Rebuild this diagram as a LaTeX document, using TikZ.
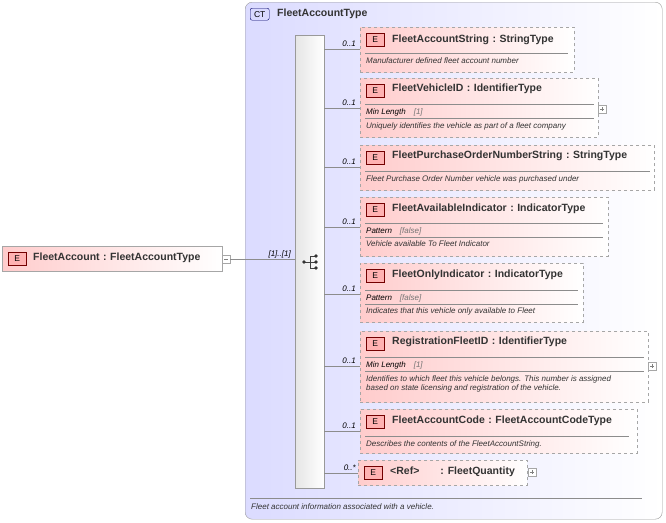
\documentclass[tikz,border=0pt]{standalone}
\usepackage{fontspec}
\setmainfont{Liberation Sans}
\begin{document}
\begin{tikzpicture}[x=1pt,y=-1pt,
  ebox/.style={draw=black!35,dashed,left color=red!20,right color=white,anchor=north west,inner sep=0pt},
  sbox/.style={draw=black!35,left color=red!20,right color=white,anchor=north west,inner sep=0pt},
  badge/.style={draw=red!45!black,fill=red!30,anchor=north west,inner sep=0pt,minimum width=18pt,minimum height=13pt,font=\fontsize{8.5}{8.5}\selectfont},
  ttl/.style={anchor=west,font=\fontsize{10.5}{11}\selectfont\bfseries,text=black!80,inner sep=0pt},
  dsc/.style={anchor=west,font=\fontsize{8}{9.5}\selectfont\itshape,text=black!80,inner sep=0pt,align=left},
  fac/.style={anchor=west,font=\fontsize{8}{8}\selectfont,inner sep=0pt},
  card/.style={anchor=east,font=\fontsize{8}{8}\selectfont\itshape,inner sep=0pt},
  sep/.style={draw=black!45},
  con/.style={draw=black!45},
  pm/.style={draw=black!35,fill=white,minimum size=8pt,inner sep=0pt,anchor=west}]
\useasboundingbox (0,0) rectangle (666,522);
% complex type
\node[draw=black!40,rounded corners=7pt,left color=blue!14,right color=white,anchor=north west,minimum width=417pt,minimum height=517pt,inner sep=0pt] (ct) at (245,2) {};
\node[draw=blue!40!black,fill=blue!15,rounded corners=2pt,anchor=north west,minimum width=19pt,minimum height=12pt,inner sep=0pt,font=\fontsize{8.5}{8.5}\selectfont] (ctb) at (250,8) {CT};
\node[ttl,anchor=west] (ctt) at (277,14) {FleetAccountType};
\draw[sep] (250,498) -- (642,498);
\node[dsc] (ctd) at (251,507) {Fleet account information associated with a vehicle.};
% sequence bar
\node[draw=black!40,left color=black!10,right color=white,anchor=north west,minimum width=29pt,minimum height=453pt,inner sep=0pt] (bar) at (295,35) {};
\node[inner sep=0pt] (icon) at (311,262) {};
\begin{scope}[black!75,line width=0.8pt]
\draw (304,262) -- (310,262) (310,256) -- (310,268) (310,256) -- (316,256) (310,262) -- (316,262) (310,268) -- (316,268);
\fill[black!80] (304,262) circle (1.8) (316,256) circle (1.8) (316,262) circle (1.8) (316,268) circle (1.8);
\end{scope}
% root element
\node[sbox,minimum width=220pt,minimum height=25pt] (root) at (2,246) {};
\node[badge] (rb) at (8,252) {E};
\node[ttl] (rt) at (33,258) {FleetAccount\,\,:\,\,FleetAccountType};
\node[pm] (rm) at (222,259) {};
\draw[black!50] (224,259) -- (228,259);
\draw[con] (rm.east) -- (bar.west |- rm.east);
\node[card] (rc) at (291,254) {[1]..[1]};
% elements
\newcommand{\myel}[7]{% name, x1,y1,w,h, conn y, card
  \node[ebox,minimum width=#4pt,minimum height=#5pt] (#1) at (#2,#3) {};
  \node[badge] (#1b) at (#2+6,#3+6) {E};
  \draw[con] (bar.east |- 0,#6) -- (#1.west |- 0,#6);
  \node[card] (#1c) at (356,#6-5) {#7};}
\myel{a}{360}{27}{214}{45}{49}{0..1}
\node[ttl] at (392,40) {FleetAccountString\,\,:\,\,StringType};
\draw[sep] (365,53) -- (568,53);
\node[dsc] at (366,61) {Manufacturer defined fleet account number};

\myel{b}{360}{78}{238}{59}{108}{0..1}
\node[ttl] at (392,89) {FleetVehicleID\,\,:\,\,IdentifierType};
\draw[sep] (365,104) -- (594,104);
\node[fac] at (366,112) {\itshape Min Length\quad\textcolor{black!55}{[1]}};
\draw[sep] (365,118) -- (594,118);
\node[dsc] at (366,126) {Uniquely identifies the vehicle as part of a fleet company};
\node[pm] (bp) at (598,109) {};
\draw[black!50] (600,109) -- (604,109) (602,107) -- (602,111);

\myel{c}{360}{145}{294}{45}{167}{0..1}
\node[ttl] at (392,156) {FleetPurchaseOrderNumberString\,\,:\,\,StringType};
\draw[sep] (365,171) -- (650,171);
\node[dsc] at (366,179) {Fleet Purchase Order Number vehicle was purchased under};

\myel{d}{360}{197}{248}{59}{227}{0..1}
\node[ttl] at (392,209) {FleetAvailableIndicator\,\,:\,\,IndicatorType};
\draw[sep] (365,223) -- (603,223);
\node[fac] at (366,231) {\itshape Pattern\quad\textcolor{black!55}{[false]}};
\draw[sep] (365,237) -- (603,237);
\node[dsc] at (366,244) {Vehicle available To Fleet Indicator};

\myel{e}{360}{263}{223}{59}{294}{0..1}
\node[ttl] at (392,275) {FleetOnlyIndicator\,\,:\,\,IndicatorType};
\draw[sep] (365,290) -- (578,290);
\node[fac] at (366,298) {\itshape Pattern\quad\textcolor{black!55}{[false]}};
\draw[sep] (365,304) -- (578,304);
\node[dsc] at (366,311) {Indicates that this vehicle only available to Fleet};

\myel{f}{360}{331}{288}{71}{366}{0..1}
\node[ttl] at (392,342) {RegistrationFleetID\,\,:\,\,IdentifierType};
\draw[sep] (365,357) -- (644,357);
\node[fac] at (366,365) {\itshape Min Length\quad\textcolor{black!55}{[1]}};
\draw[sep] (365,371) -- (644,371);
\node[dsc] at (366,384) {Identifies to which fleet this vehicle belongs. This number is assigned\\based on state licensing and registration of the vehicle.};
\node[pm] (fp) at (648,366) {};
\draw[black!50] (650,366) -- (654,366) (652,364) -- (652,368);

\myel{g}{360}{409}{277}{44}{431}{0..1}
\node[ttl] at (392,421) {FleetAccountCode\,\,:\,\,FleetAccountCodeType};
\draw[sep] (365,436) -- (629,436);
\node[dsc] at (366,444) {Describes the contents of the FleetAccountString.};

\myel{h}{358}{460}{169}{25}{473}{0..*}
\node[ttl] at (390,472) {<Ref>\qquad: FleetQuantity};
\node[pm] (hp) at (528,472) {};
\draw[black!50] (530,472) -- (534,472) (532,470) -- (532,474);
\end{tikzpicture}
\end{document}
